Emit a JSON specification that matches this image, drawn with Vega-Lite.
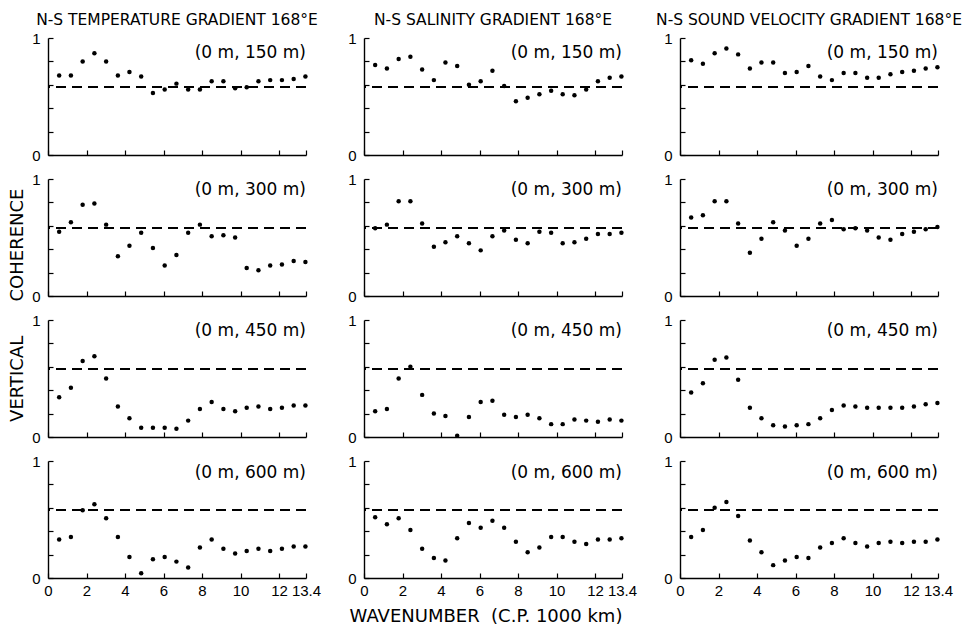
{
"$schema": "https://vega.github.io/schema/vega-lite/v6.json",
"background": "white",
"padding": {"left": 8, "top": 12, "right": 5, "bottom": 4},
"title": {"text": "VERTICAL\u00a0\u00a0\u00a0\u00a0\u00a0\u00a0COHERENCE", "orient": "left", "anchor": "middle", "font": "DejaVu Sans", "fontSize": 18, "fontWeight": "normal", "color": "black", "offset": 5, "dx": 14},
"config": {
  "view": {"stroke": null},
  "font": "DejaVu Sans",
  "axis": {"domainColor": "black", "domainWidth": 1.4, "tickColor": "black", "tickWidth": 1.2, "labelColor": "black", "labelFont": "Liberation Sans Narrow, Liberation Sans", "labelFontSize": 15, "grid": false, "title": null, "labelFlush": false, "labelOverlap": false, "labelBound": false, "tickCount": 20}
},
"data": {"values": [
{"v":"T","d":150,"x":0.58,"y":0.68},{"v":"T","d":150,"x":1.19,"y":0.68},{"v":"T","d":150,"x":1.80,"y":0.80},{"v":"T","d":150,"x":2.41,"y":0.87},{"v":"T","d":150,"x":3.02,"y":0.80},{"v":"T","d":150,"x":3.63,"y":0.68},{"v":"T","d":150,"x":4.23,"y":0.71},{"v":"T","d":150,"x":4.84,"y":0.67},{"v":"T","d":150,"x":5.45,"y":0.53},{"v":"T","d":150,"x":6.06,"y":0.56},{"v":"T","d":150,"x":6.67,"y":0.61},{"v":"T","d":150,"x":7.28,"y":0.56},{"v":"T","d":150,"x":7.89,"y":0.56},{"v":"T","d":150,"x":8.50,"y":0.63},{"v":"T","d":150,"x":9.11,"y":0.63},{"v":"T","d":150,"x":9.72,"y":0.57},{"v":"T","d":150,"x":10.32,"y":0.58},{"v":"T","d":150,"x":10.93,"y":0.63},{"v":"T","d":150,"x":11.54,"y":0.64},{"v":"T","d":150,"x":12.15,"y":0.64},{"v":"T","d":150,"x":12.76,"y":0.65},{"v":"T","d":150,"x":13.37,"y":0.67},
{"v":"S","d":150,"x":0.58,"y":0.77},{"v":"S","d":150,"x":1.19,"y":0.74},{"v":"S","d":150,"x":1.80,"y":0.82},{"v":"S","d":150,"x":2.41,"y":0.84},{"v":"S","d":150,"x":3.02,"y":0.73},{"v":"S","d":150,"x":3.63,"y":0.64},{"v":"S","d":150,"x":4.23,"y":0.79},{"v":"S","d":150,"x":4.84,"y":0.76},{"v":"S","d":150,"x":5.45,"y":0.60},{"v":"S","d":150,"x":6.06,"y":0.63},{"v":"S","d":150,"x":6.67,"y":0.72},{"v":"S","d":150,"x":7.28,"y":0.59},{"v":"S","d":150,"x":7.89,"y":0.46},{"v":"S","d":150,"x":8.50,"y":0.49},{"v":"S","d":150,"x":9.11,"y":0.52},{"v":"S","d":150,"x":9.72,"y":0.55},{"v":"S","d":150,"x":10.32,"y":0.52},{"v":"S","d":150,"x":10.93,"y":0.51},{"v":"S","d":150,"x":11.54,"y":0.56},{"v":"S","d":150,"x":12.15,"y":0.63},{"v":"S","d":150,"x":12.76,"y":0.66},{"v":"S","d":150,"x":13.37,"y":0.67},
{"v":"V","d":150,"x":0.58,"y":0.81},{"v":"V","d":150,"x":1.19,"y":0.78},{"v":"V","d":150,"x":1.80,"y":0.87},{"v":"V","d":150,"x":2.41,"y":0.91},{"v":"V","d":150,"x":3.02,"y":0.86},{"v":"V","d":150,"x":3.63,"y":0.74},{"v":"V","d":150,"x":4.23,"y":0.79},{"v":"V","d":150,"x":4.84,"y":0.79},{"v":"V","d":150,"x":5.45,"y":0.70},{"v":"V","d":150,"x":6.06,"y":0.71},{"v":"V","d":150,"x":6.67,"y":0.76},{"v":"V","d":150,"x":7.28,"y":0.67},{"v":"V","d":150,"x":7.89,"y":0.64},{"v":"V","d":150,"x":8.50,"y":0.70},{"v":"V","d":150,"x":9.11,"y":0.70},{"v":"V","d":150,"x":9.72,"y":0.66},{"v":"V","d":150,"x":10.32,"y":0.66},{"v":"V","d":150,"x":10.93,"y":0.69},{"v":"V","d":150,"x":11.54,"y":0.71},{"v":"V","d":150,"x":12.15,"y":0.72},{"v":"V","d":150,"x":12.76,"y":0.74},{"v":"V","d":150,"x":13.37,"y":0.75},
{"v":"T","d":300,"x":0.58,"y":0.55},{"v":"T","d":300,"x":1.19,"y":0.63},{"v":"T","d":300,"x":1.80,"y":0.78},{"v":"T","d":300,"x":2.41,"y":0.79},{"v":"T","d":300,"x":3.02,"y":0.61},{"v":"T","d":300,"x":3.63,"y":0.34},{"v":"T","d":300,"x":4.23,"y":0.43},{"v":"T","d":300,"x":4.84,"y":0.54},{"v":"T","d":300,"x":5.45,"y":0.41},{"v":"T","d":300,"x":6.06,"y":0.26},{"v":"T","d":300,"x":6.67,"y":0.35},{"v":"T","d":300,"x":7.28,"y":0.54},{"v":"T","d":300,"x":7.89,"y":0.61},{"v":"T","d":300,"x":8.50,"y":0.51},{"v":"T","d":300,"x":9.11,"y":0.52},{"v":"T","d":300,"x":9.72,"y":0.50},{"v":"T","d":300,"x":10.32,"y":0.24},{"v":"T","d":300,"x":10.93,"y":0.22},{"v":"T","d":300,"x":11.54,"y":0.26},{"v":"T","d":300,"x":12.15,"y":0.27},{"v":"T","d":300,"x":12.76,"y":0.30},{"v":"T","d":300,"x":13.37,"y":0.29},
{"v":"S","d":300,"x":0.58,"y":0.58},{"v":"S","d":300,"x":1.19,"y":0.61},{"v":"S","d":300,"x":1.80,"y":0.81},{"v":"S","d":300,"x":2.41,"y":0.81},{"v":"S","d":300,"x":3.02,"y":0.62},{"v":"S","d":300,"x":3.63,"y":0.42},{"v":"S","d":300,"x":4.23,"y":0.46},{"v":"S","d":300,"x":4.84,"y":0.51},{"v":"S","d":300,"x":5.45,"y":0.45},{"v":"S","d":300,"x":6.06,"y":0.39},{"v":"S","d":300,"x":6.67,"y":0.51},{"v":"S","d":300,"x":7.28,"y":0.56},{"v":"S","d":300,"x":7.89,"y":0.48},{"v":"S","d":300,"x":8.50,"y":0.45},{"v":"S","d":300,"x":9.11,"y":0.55},{"v":"S","d":300,"x":9.72,"y":0.54},{"v":"S","d":300,"x":10.32,"y":0.45},{"v":"S","d":300,"x":10.93,"y":0.46},{"v":"S","d":300,"x":11.54,"y":0.49},{"v":"S","d":300,"x":12.15,"y":0.53},{"v":"S","d":300,"x":12.76,"y":0.53},{"v":"S","d":300,"x":13.37,"y":0.54},
{"v":"V","d":300,"x":0.58,"y":0.67},{"v":"V","d":300,"x":1.19,"y":0.69},{"v":"V","d":300,"x":1.80,"y":0.81},{"v":"V","d":300,"x":2.41,"y":0.81},{"v":"V","d":300,"x":3.02,"y":0.62},{"v":"V","d":300,"x":3.63,"y":0.37},{"v":"V","d":300,"x":4.23,"y":0.49},{"v":"V","d":300,"x":4.84,"y":0.63},{"v":"V","d":300,"x":5.45,"y":0.56},{"v":"V","d":300,"x":6.06,"y":0.43},{"v":"V","d":300,"x":6.67,"y":0.49},{"v":"V","d":300,"x":7.28,"y":0.62},{"v":"V","d":300,"x":7.89,"y":0.65},{"v":"V","d":300,"x":8.50,"y":0.57},{"v":"V","d":300,"x":9.11,"y":0.58},{"v":"V","d":300,"x":9.72,"y":0.56},{"v":"V","d":300,"x":10.32,"y":0.50},{"v":"V","d":300,"x":10.93,"y":0.48},{"v":"V","d":300,"x":11.54,"y":0.53},{"v":"V","d":300,"x":12.15,"y":0.55},{"v":"V","d":300,"x":12.76,"y":0.57},{"v":"V","d":300,"x":13.37,"y":0.59},
{"v":"T","d":450,"x":0.58,"y":0.34},{"v":"T","d":450,"x":1.19,"y":0.42},{"v":"T","d":450,"x":1.80,"y":0.65},{"v":"T","d":450,"x":2.41,"y":0.69},{"v":"T","d":450,"x":3.02,"y":0.50},{"v":"T","d":450,"x":3.63,"y":0.26},{"v":"T","d":450,"x":4.23,"y":0.16},{"v":"T","d":450,"x":4.84,"y":0.08},{"v":"T","d":450,"x":5.45,"y":0.08},{"v":"T","d":450,"x":6.06,"y":0.08},{"v":"T","d":450,"x":6.67,"y":0.07},{"v":"T","d":450,"x":7.28,"y":0.14},{"v":"T","d":450,"x":7.89,"y":0.24},{"v":"T","d":450,"x":8.50,"y":0.30},{"v":"T","d":450,"x":9.11,"y":0.24},{"v":"T","d":450,"x":9.72,"y":0.22},{"v":"T","d":450,"x":10.32,"y":0.25},{"v":"T","d":450,"x":10.93,"y":0.26},{"v":"T","d":450,"x":11.54,"y":0.24},{"v":"T","d":450,"x":12.15,"y":0.25},{"v":"T","d":450,"x":12.76,"y":0.27},{"v":"T","d":450,"x":13.37,"y":0.27},
{"v":"S","d":450,"x":0.58,"y":0.22},{"v":"S","d":450,"x":1.19,"y":0.24},{"v":"S","d":450,"x":1.80,"y":0.50},{"v":"S","d":450,"x":2.41,"y":0.60},{"v":"S","d":450,"x":3.02,"y":0.36},{"v":"S","d":450,"x":3.63,"y":0.20},{"v":"S","d":450,"x":4.23,"y":0.18},{"v":"S","d":450,"x":4.84,"y":0.01},{"v":"S","d":450,"x":5.45,"y":0.17},{"v":"S","d":450,"x":6.06,"y":0.30},{"v":"S","d":450,"x":6.67,"y":0.31},{"v":"S","d":450,"x":7.28,"y":0.19},{"v":"S","d":450,"x":7.89,"y":0.17},{"v":"S","d":450,"x":8.50,"y":0.19},{"v":"S","d":450,"x":9.11,"y":0.16},{"v":"S","d":450,"x":9.72,"y":0.11},{"v":"S","d":450,"x":10.32,"y":0.11},{"v":"S","d":450,"x":10.93,"y":0.15},{"v":"S","d":450,"x":11.54,"y":0.14},{"v":"S","d":450,"x":12.15,"y":0.13},{"v":"S","d":450,"x":12.76,"y":0.15},{"v":"S","d":450,"x":13.37,"y":0.14},
{"v":"V","d":450,"x":0.58,"y":0.38},{"v":"V","d":450,"x":1.19,"y":0.46},{"v":"V","d":450,"x":1.80,"y":0.66},{"v":"V","d":450,"x":2.41,"y":0.68},{"v":"V","d":450,"x":3.02,"y":0.49},{"v":"V","d":450,"x":3.63,"y":0.25},{"v":"V","d":450,"x":4.23,"y":0.16},{"v":"V","d":450,"x":4.84,"y":0.10},{"v":"V","d":450,"x":5.45,"y":0.09},{"v":"V","d":450,"x":6.06,"y":0.10},{"v":"V","d":450,"x":6.67,"y":0.11},{"v":"V","d":450,"x":7.28,"y":0.16},{"v":"V","d":450,"x":7.89,"y":0.23},{"v":"V","d":450,"x":8.50,"y":0.27},{"v":"V","d":450,"x":9.11,"y":0.26},{"v":"V","d":450,"x":9.72,"y":0.25},{"v":"V","d":450,"x":10.32,"y":0.25},{"v":"V","d":450,"x":10.93,"y":0.25},{"v":"V","d":450,"x":11.54,"y":0.25},{"v":"V","d":450,"x":12.15,"y":0.26},{"v":"V","d":450,"x":12.76,"y":0.28},{"v":"V","d":450,"x":13.37,"y":0.29},
{"v":"T","d":600,"x":0.58,"y":0.33},{"v":"T","d":600,"x":1.19,"y":0.35},{"v":"T","d":600,"x":1.80,"y":0.58},{"v":"T","d":600,"x":2.41,"y":0.63},{"v":"T","d":600,"x":3.02,"y":0.51},{"v":"T","d":600,"x":3.63,"y":0.35},{"v":"T","d":600,"x":4.23,"y":0.18},{"v":"T","d":600,"x":4.84,"y":0.04},{"v":"T","d":600,"x":5.45,"y":0.16},{"v":"T","d":600,"x":6.06,"y":0.18},{"v":"T","d":600,"x":6.67,"y":0.14},{"v":"T","d":600,"x":7.28,"y":0.09},{"v":"T","d":600,"x":7.89,"y":0.26},{"v":"T","d":600,"x":8.50,"y":0.33},{"v":"T","d":600,"x":9.11,"y":0.25},{"v":"T","d":600,"x":9.72,"y":0.21},{"v":"T","d":600,"x":10.32,"y":0.23},{"v":"T","d":600,"x":10.93,"y":0.25},{"v":"T","d":600,"x":11.54,"y":0.23},{"v":"T","d":600,"x":12.15,"y":0.25},{"v":"T","d":600,"x":12.76,"y":0.27},{"v":"T","d":600,"x":13.37,"y":0.27},
{"v":"S","d":600,"x":0.58,"y":0.52},{"v":"S","d":600,"x":1.19,"y":0.46},{"v":"S","d":600,"x":1.80,"y":0.51},{"v":"S","d":600,"x":2.41,"y":0.41},{"v":"S","d":600,"x":3.02,"y":0.25},{"v":"S","d":600,"x":3.63,"y":0.17},{"v":"S","d":600,"x":4.23,"y":0.15},{"v":"S","d":600,"x":4.84,"y":0.34},{"v":"S","d":600,"x":5.45,"y":0.47},{"v":"S","d":600,"x":6.06,"y":0.43},{"v":"S","d":600,"x":6.67,"y":0.49},{"v":"S","d":600,"x":7.28,"y":0.43},{"v":"S","d":600,"x":7.89,"y":0.31},{"v":"S","d":600,"x":8.50,"y":0.22},{"v":"S","d":600,"x":9.11,"y":0.26},{"v":"S","d":600,"x":9.72,"y":0.35},{"v":"S","d":600,"x":10.32,"y":0.35},{"v":"S","d":600,"x":10.93,"y":0.31},{"v":"S","d":600,"x":11.54,"y":0.29},{"v":"S","d":600,"x":12.15,"y":0.33},{"v":"S","d":600,"x":12.76,"y":0.33},{"v":"S","d":600,"x":13.37,"y":0.34},
{"v":"V","d":600,"x":0.58,"y":0.35},{"v":"V","d":600,"x":1.19,"y":0.41},{"v":"V","d":600,"x":1.80,"y":0.60},{"v":"V","d":600,"x":2.41,"y":0.65},{"v":"V","d":600,"x":3.02,"y":0.53},{"v":"V","d":600,"x":3.63,"y":0.32},{"v":"V","d":600,"x":4.23,"y":0.22},{"v":"V","d":600,"x":4.84,"y":0.11},{"v":"V","d":600,"x":5.45,"y":0.15},{"v":"V","d":600,"x":6.06,"y":0.18},{"v":"V","d":600,"x":6.67,"y":0.17},{"v":"V","d":600,"x":7.28,"y":0.26},{"v":"V","d":600,"x":7.89,"y":0.30},{"v":"V","d":600,"x":8.50,"y":0.34},{"v":"V","d":600,"x":9.11,"y":0.30},{"v":"V","d":600,"x":9.72,"y":0.27},{"v":"V","d":600,"x":10.32,"y":0.30},{"v":"V","d":600,"x":10.93,"y":0.31},{"v":"V","d":600,"x":11.54,"y":0.30},{"v":"V","d":600,"x":12.15,"y":0.31},{"v":"V","d":600,"x":12.76,"y":0.31},{"v":"V","d":600,"x":13.37,"y":0.33}
]},
"spacing": 9,
"vconcat": [
{
 "transform": [{"filter": "datum.d == 150"}],
 "facet": {"column": {"field": "v", "type": "nominal", "sort": ["T","S","V"], "header": {"title": null, "labelOrient": "top", "labelFont": "DejaVu Sans", "labelFontSize": 15.5, "labelColor": "black", "labelPadding": 10, "labelExpr": "datum.value == 'T' ? 'N-S TEMPERATURE GRADIENT 168°E' : datum.value == 'S' ? 'N-S SALINITY GRADIENT 168°E' : 'N-S SOUND VELOCITY GRADIENT 168°E'"}}},
 "spacing": 58, "bounds": "flush",
 "resolve": {"axis": {"y": "independent"}},
 "spec": {"width": 258, "height": 117, "layer": [
   {"mark": {"type": "rule", "strokeDash": [10, 6], "strokeWidth": 1.3, "color": "black"}, "encoding": {"y": {"datum": 0.58, "type": "quantitative"}}},
   {"mark": {"type": "circle", "size": 20, "color": "black", "opacity": 1},
    "encoding": {
     "x": {"field": "x", "type": "quantitative", "scale": {"domain": [0, 13.4], "nice": false, "zero": false}, "axis": {"values": [0,2,4,6,8,10,12,13.4], "tickCount": 20, "tickSize": -5, "labels": false}},
     "y": {"field": "y", "type": "quantitative", "scale": {"domain": [0, 1], "nice": false}, "axis": {"values": [0,0.2,0.4,0.6,0.8,1], "tickCount": 20, "tickSize": -5, "labelPadding": 13, "labelOverlap": false, "labelExpr": "datum.value == 0 ? '0' : datum.value == 1 ? '1' : ''"}}}},
   {"transform": [{"aggregate": [{"op": "count", "as": "n"}], "groupby": ["v"]}], "mark": {"type": "text", "align": "right", "baseline": "middle", "font": "DejaVu Sans", "fontSize": 17, "color": "black"}, "encoding": {"x": {"datum": 13.4, "type": "quantitative"}, "y": {"datum": 0.875, "type": "quantitative"}, "text": {"value": "(0 m, 150 m)"}}}
 ]}
},
{
 "transform": [{"filter": "datum.d == 300"}],
 "facet": {"column": {"field": "v", "type": "nominal", "sort": ["T","S","V"], "header": {"title": null, "labels": false}}},
 "spacing": 58, "bounds": "flush",
 "resolve": {"axis": {"y": "independent"}},
 "spec": {"width": 258, "height": 117, "layer": [
   {"mark": {"type": "rule", "strokeDash": [10, 6], "strokeWidth": 1.3, "color": "black"}, "encoding": {"y": {"datum": 0.58, "type": "quantitative"}}},
   {"mark": {"type": "circle", "size": 20, "color": "black", "opacity": 1},
    "encoding": {
     "x": {"field": "x", "type": "quantitative", "scale": {"domain": [0, 13.4], "nice": false, "zero": false}, "axis": {"values": [0,2,4,6,8,10,12,13.4], "tickCount": 20, "tickSize": -5, "labels": false}},
     "y": {"field": "y", "type": "quantitative", "scale": {"domain": [0, 1], "nice": false}, "axis": {"values": [0,0.2,0.4,0.6,0.8,1], "tickCount": 20, "tickSize": -5, "labelPadding": 13, "labelOverlap": false, "labelExpr": "datum.value == 0 ? '0' : datum.value == 1 ? '1' : ''"}}}},
   {"transform": [{"aggregate": [{"op": "count", "as": "n"}], "groupby": ["v"]}], "mark": {"type": "text", "align": "right", "baseline": "middle", "font": "DejaVu Sans", "fontSize": 17, "color": "black"}, "encoding": {"x": {"datum": 13.4, "type": "quantitative"}, "y": {"datum": 0.905, "type": "quantitative"}, "text": {"value": "(0 m, 300 m)"}}}
 ]}
},
{
 "transform": [{"filter": "datum.d == 450"}],
 "facet": {"column": {"field": "v", "type": "nominal", "sort": ["T","S","V"], "header": {"title": null, "labels": false}}},
 "spacing": 58, "bounds": "flush",
 "resolve": {"axis": {"y": "independent"}},
 "spec": {"width": 258, "height": 117, "layer": [
   {"mark": {"type": "rule", "strokeDash": [10, 6], "strokeWidth": 1.3, "color": "black"}, "encoding": {"y": {"datum": 0.58, "type": "quantitative"}}},
   {"mark": {"type": "circle", "size": 20, "color": "black", "opacity": 1},
    "encoding": {
     "x": {"field": "x", "type": "quantitative", "scale": {"domain": [0, 13.4], "nice": false, "zero": false}, "axis": {"values": [0,2,4,6,8,10,12,13.4], "tickCount": 20, "tickSize": -5, "labels": false}},
     "y": {"field": "y", "type": "quantitative", "scale": {"domain": [0, 1], "nice": false}, "axis": {"values": [0,0.2,0.4,0.6,0.8,1], "tickCount": 20, "tickSize": -5, "labelPadding": 13, "labelOverlap": false, "labelExpr": "datum.value == 0 ? '0' : datum.value == 1 ? '1' : ''"}}}},
   {"transform": [{"aggregate": [{"op": "count", "as": "n"}], "groupby": ["v"]}], "mark": {"type": "text", "align": "right", "baseline": "middle", "font": "DejaVu Sans", "fontSize": 17, "color": "black"}, "encoding": {"x": {"datum": 13.4, "type": "quantitative"}, "y": {"datum": 0.905, "type": "quantitative"}, "text": {"value": "(0 m, 450 m)"}}}
 ]}
},
{
 "transform": [{"filter": "datum.d == 600"}],
 "facet": {"column": {"field": "v", "type": "nominal", "sort": ["T","S","V"], "header": {"title": "WAVENUMBER\u00a0\u00a0(C.P.\u00a01000\u00a0km)", "titleOrient": "bottom", "titleFont": "DejaVu Sans", "titleFontSize": 18, "titleFontWeight": "normal", "titleColor": "black", "titlePadding": 0, "labels": false}}},
 "spacing": 58, "bounds": "flush",
 "resolve": {"axis": {"y": "independent"}},
 "spec": {"width": 258, "height": 117, "layer": [
   {"mark": {"type": "rule", "strokeDash": [10, 6], "strokeWidth": 1.3, "color": "black"}, "encoding": {"y": {"datum": 0.58, "type": "quantitative"}}},
   {"mark": {"type": "circle", "size": 20, "color": "black", "opacity": 1},
    "encoding": {
     "x": {"field": "x", "type": "quantitative", "scale": {"domain": [0, 13.4], "nice": false, "zero": false}, "axis": {"values": [0,2,4,6,8,10,12,13.4], "tickCount": 20, "tickSize": -5, "labels": true, "format": "~g", "labelOverlap": false, "labelPadding": 10}},
     "y": {"field": "y", "type": "quantitative", "scale": {"domain": [0, 1], "nice": false}, "axis": {"values": [0,0.2,0.4,0.6,0.8,1], "tickCount": 20, "tickSize": -5, "labelPadding": 13, "labelOverlap": false, "labelExpr": "datum.value == 0 ? '0' : datum.value == 1 ? '1' : ''"}}}},
   {"transform": [{"aggregate": [{"op": "count", "as": "n"}], "groupby": ["v"]}], "mark": {"type": "text", "align": "right", "baseline": "middle", "font": "DejaVu Sans", "fontSize": 17, "color": "black"}, "encoding": {"x": {"datum": 13.4, "type": "quantitative"}, "y": {"datum": 0.895, "type": "quantitative"}, "text": {"value": "(0 m, 600 m)"}}}
 ]}
}
]
}
